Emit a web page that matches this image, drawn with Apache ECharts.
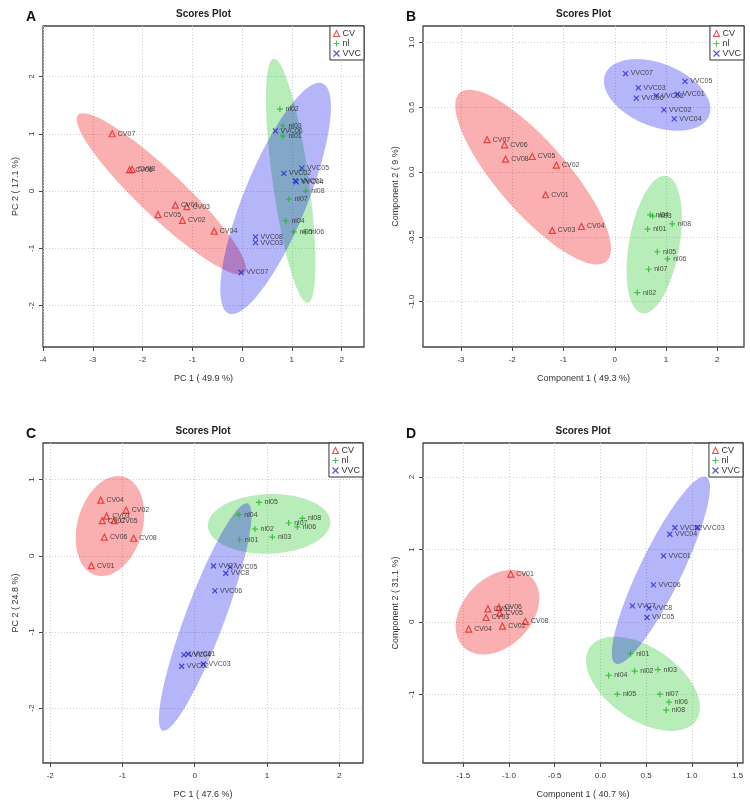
<!DOCTYPE html>
<html><head><meta charset="utf-8">
<script src="https://cdn.jsdelivr.net/npm/echarts@6/dist/echarts.min.js"></script>
<style>html,body{margin:0;padding:0;background:#fff}#c{width:750px;height:801px}</style>
</head><body><div id="c"></div>
<script>
// ---------- data ----------
const groups = ['CV', 'nl', 'VVC'];

// Panel A (PCA)
const aCV  = [['CV07',-2.61,1.00],['CV06',-2.26,0.37],['CV08',-2.21,0.38],['CV01',-1.34,-0.245],['CV03',-1.11,-0.27],['CV05',-1.69,-0.41],['CV02',-1.20,-0.51],['CV04',-0.56,-0.70]];
const aNL  = [['nl02',0.76,1.43],['nl03',0.82,1.14],['nl01',0.82,0.96],['nl08',1.28,0.00],['nl07',0.94,-0.14],['nl04',0.88,-0.52],['nl05',1.04,-0.71],['nl06',1.27,-0.71]];
const aVVC = [['VVC06',0.67,1.05],['VVC05',1.20,0.40],['VVC02',0.84,0.31],['VVC01',1.07,0.18],['VVC04',1.09,0.16],['VVC08',0.27,-0.80],['VVC03',0.27,-0.90],['VVC07',-0.02,-1.42]];
// Panel B (PLS-DA)
const bCV  = [['CV07',-2.49,0.25],['CV06',-2.15,0.21],['CV08',-2.13,0.10],['CV05',-1.61,0.12],['CV02',-1.14,0.054],['CV01',-1.35,-0.175],['CV03',-1.22,-0.45],['CV04',-0.65,-0.42]];
const bNL  = [['nl04',0.69,-0.33],['nl03',0.74,-0.34],['nl08',1.12,-0.40],['nl01',0.64,-0.44],['nl05',0.83,-0.615],['nl06',1.03,-0.67],['nl07',0.66,-0.75],['nl02',0.44,-0.93]];
const bVVC = [['VVC07',0.21,0.76],['VVC05',1.37,0.70],['VVC03',0.46,0.65],['VVC06',0.42,0.57],['VVC08',0.81,0.59],['VVC01',1.22,0.60],['VVC02',0.96,0.48],['VVC04',1.16,0.41]];
// Panel C (PCA)
const cCV  = [['CV04',-1.30,0.73],['CV02',-0.95,0.60],['CV03',-1.22,0.52],['CV07',-1.28,0.46],['CV05',-1.11,0.46],['CV06',-1.25,0.245],['CV08',-0.845,0.23],['CV01',-1.43,-0.13]];
const cNL  = [['nl05',0.89,0.70],['nl04',0.61,0.54],['nl08',1.49,0.49],['nl07',1.30,0.43],['nl06',1.42,0.38],['nl02',0.835,0.35],['nl03',1.075,0.245],['nl01',0.62,0.21]];
const cVVC = [['VVC7',0.26,-0.135],['VVC05',0.49,-0.15],['VVC8',0.43,-0.23],['VVC06',0.28,-0.46],['VVC04',-0.15,-1.30],['VVC01',-0.09,-1.29],['VVC02',-0.18,-1.45],['VVC03',0.12,-1.42]];
// Panel D (PLS-DA)
const dCV  = [['CV01',-0.98,0.66],['CV07',-1.23,0.18],['CV06',-1.11,0.20],['CV05',-1.10,0.12],['CV03',-1.25,0.06],['CV08',-0.82,0.005],['CV02',-1.07,-0.06],['CV04',-1.44,-0.10]];
const dNL  = [['nl01',0.33,-0.44],['nl02',0.375,-0.68],['nl03',0.63,-0.66],['nl04',0.09,-0.74],['nl05',0.185,-1.00],['nl07',0.65,-1.00],['nl06',0.75,-1.11],['nl08',0.72,-1.22]];
const dVVC = [['VVC02',0.815,1.30],['VVC03',1.06,1.30],['VVC04',0.76,1.21],['VVC01',0.69,0.91],['VVC06',0.58,0.51],['VVC7',0.35,0.22],['VVC8',0.53,0.19],['VVC05',0.51,0.06]];

// Ticks and axis ranges
const xTicksA = [-4,-3,-2,-1,0,1,2];       const yTicksA = [-2,-1,0,1,2];
const xTicksB = [-3,-2,-1,0,1,2];          const yTicksB = [-1.0,-0.5,0.0,0.5,1.0];
const xTicksC = [-2,-1,0,1,2];             const yTicksC = [-2,-1,0,1];
const xTicksD = [-1.5,-1.0,-0.5,0.0,0.5,1.0,1.5]; const yTicksD = [-1,0,1,2];
const xRangeA = [-4.0, 2.45];  const yRangeA = [-2.72, 2.88];
const xRangeB = [-3.74, 2.52]; const yRangeB = [-1.35, 1.127];
const xRangeC = [-2.1, 2.33];  const yRangeC = [-2.72, 1.48];
const xRangeD = [-1.94, 1.56]; const yRangeD = [-1.95, 2.47];
const xNames = ['PC 1 ( 49.9 %)', 'Component 1 ( 49.3 %)', 'PC 1 ( 47.6 %)', 'Component 1 ( 40.7 %)'];
const yNames = ['PC 2 ( 17.1 %)', 'Component 2 ( 9 %)', 'PC 2 ( 24.8 %)', 'Component 2 ( 31.1 %)'];
const panelLetters = ['A', 'B', 'C', 'D'];
const panelTitle = 'Scores Plot';

// ---------- styling ----------
const markColor = {CV:'#e82424', nl:'#22b822', VVC:'#2424d8'};
const fillColor = {CV:'rgba(238,0,0,0.31)', nl:'rgba(0,185,0,0.28)', VVC:'rgba(0,0,238,0.29)'};
const symbolOf = {CV:'triangle', nl:'path://M5,0L5,10M0,5L10,5', VVC:'path://M0,0L10,10M10,0L0,10'};
const symSize = {CV:6, nl:6, VVC:5};

const panels = [
  {pts:[aCV,aNL,aVVC], xt:xTicksA, yt:yTicksA, xr:xRangeA, yr:yRangeA, grid:{left:43, top:26, width:321, height:321}, dec:0, ydec:0},
  {pts:[bCV,bNL,bVVC], xt:xTicksB, yt:yTicksB, xr:xRangeB, yr:yRangeB, grid:{left:423, top:26, width:321, height:321}, dec:0, ydec:1},
  {pts:[cCV,cNL,cVVC], xt:xTicksC, yt:yTicksC, xr:xRangeC, yr:yRangeC, grid:{left:43, top:443, width:320, height:320}, dec:0, ydec:0},
  {pts:[dCV,dNL,dVVC], xt:xTicksD, yt:yTicksD, xr:xRangeD, yr:yRangeD, grid:{left:423, top:443, width:320, height:320}, dec:1, ydec:0}
];

// 95% confidence ellipse from group covariance
function ellipse(pts) {
  const n = pts.length; let mx = 0, my = 0;
  pts.forEach(p => { mx += p[1]; my += p[2]; }); mx /= n; my /= n;
  let sxx = 0, syy = 0, sxy = 0;
  pts.forEach(p => { const dx = p[1]-mx, dy = p[2]-my; sxx += dx*dx; syy += dy*dy; sxy += dx*dy; });
  sxx /= n-1; syy /= n-1; sxy /= n-1;
  const tr = sxx + syy, det = sxx*syy - sxy*sxy;
  const d = Math.sqrt(Math.max(tr*tr/4 - det, 0));
  const l1 = tr/2 + d, l2 = tr/2 - d;
  let ang = Math.abs(sxy) < 1e-12 ? (sxx >= syy ? 0 : Math.PI/2) : Math.atan2(l1 - sxx, sxy);
  const t = Math.sqrt(5.991464547);
  const a = t*Math.sqrt(l1), b = t*Math.sqrt(Math.max(l2, 0));
  const out = [];
  for (let i = 0; i < 120; i++) {
    const th = 2*Math.PI*i/120, u = a*Math.cos(th), v = b*Math.sin(th);
    out.push([mx + u*Math.cos(ang) - v*Math.sin(ang), my + u*Math.sin(ang) + v*Math.cos(ang)]);
  }
  return {pts: out, c: [mx, my]};
}

const FONT = 'Liberation Sans, Arial, sans-serif';
const grids = [], xAxes = [], yAxes = [], series = [], legends = [], graphics = [];

panels.forEach((p, i) => {
  grids.push(Object.assign({show:true, borderColor:'#444', borderWidth:1.3, backgroundColor:'#fff'}, p.grid));
  xAxes.push({
    gridIndex:i, type:'value', min:p.xr[0], max:p.xr[1], position:'bottom',
    axisLine:{show:false, onZero:false},
    axisTick:{show:true, length:4, customValues:p.xt, lineStyle:{color:'#444'}},
    axisLabel:{customValues:p.xt, fontSize:8, color:'#333', margin:9, fontFamily:FONT,
      formatter: v => Number(v).toFixed(p.dec)},
    splitLine:{show:true, lineStyle:{type:[1,2], color:'#cfcfcf', width:1}},
    name:xNames[i], nameLocation:'middle', nameGap:27,
    nameTextStyle:{fontSize:9, color:'#333', fontFamily:FONT}
  });
  yAxes.push({
    gridIndex:i, type:'value', min:p.yr[0], max:p.yr[1], position:'left',
    axisLine:{show:false, onZero:false},
    axisTick:{show:true, length:4, customValues:p.yt, lineStyle:{color:'#444'}},
    axisLabel:{customValues:p.yt, fontSize:8, color:'#333', margin:7, rotate:90, fontFamily:FONT,
      formatter: v => Number(v).toFixed(p.ydec)},
    splitLine:{show:true, lineStyle:{type:[1,2], color:'#cfcfcf', width:1}},
    name:yNames[i], nameLocation:'middle', nameGap:23,
    nameTextStyle:{fontSize:9, color:'#333', fontFamily:FONT}
  });
  // ellipses
  groups.forEach((g, k) => {
    const e = ellipse(p.pts[k]);
    series.push({
      type:'custom', name:'ell-' + i + '-' + g, xAxisIndex:i, yAxisIndex:i, silent:true, z:1,
      data:[e.c],
      renderItem:(params, api) => ({
        type:'polygon',
        shape:{points: e.pts.map(q => api.coord(q))},
        style:{fill: fillColor[g], stroke:null}
      })
    });
  });
  // points
  groups.forEach((g, k) => {
    series.push({
      type:'scatter', name:g, xAxisIndex:i, yAxisIndex:i, z:3,
      data: p.pts[k].map(q => ({name:q[0], value:[q[1], q[2]]})),
      symbol:symbolOf[g], symbolSize:symSize[g],
      itemStyle:{color:'transparent', borderColor:markColor[g], borderWidth:1.2},
      label:{show:true, position:'right', distance:2, formatter:'{b}', fontSize:7, color:'#222', fontFamily:FONT},
      labelLayout:{hideOverlap:false},
      emphasis:{disabled:true}
    });
  });
  legends.push({
    orient:'vertical', right: 750 - (p.grid.left + p.grid.width), top: p.grid.top,
    data: groups.map(g => ({name:g, icon:symbolOf[g],
      itemStyle:{color:'transparent', borderColor:markColor[g], borderWidth:1.1}})),
    itemWidth:6, itemHeight:6, itemGap:1, padding:[3,3,2,3],
    borderColor:'#333', borderWidth:1, backgroundColor:'#fff', selectedMode:false,
    textStyle:{fontSize:9, color:'#333', fontFamily:FONT, padding:[0,0,0,-2]}
  });
  const cx = p.grid.left + p.grid.width/2;
  graphics.push({type:'text', x:cx, y:p.grid.top - 12, z:10,
    style:{text:panelTitle, align:'center', verticalAlign:'middle', font:'bold 10px ' + FONT, fill:'#222'}});
  graphics.push({type:'text', x:p.grid.left - 12, y:p.grid.top - 9, z:10,
    style:{text:panelLetters[i], align:'center', verticalAlign:'middle', font:'bold 14px ' + FONT, fill:'#111'}});
});

const chart = echarts.init(document.getElementById('c'), null, {renderer:'canvas'});
chart.setOption({
  backgroundColor:'#fff', animation:false,
  grid:grids, xAxis:xAxes, yAxis:yAxes, series:series, legend:legends, graphic:graphics
});
</script></body></html>
